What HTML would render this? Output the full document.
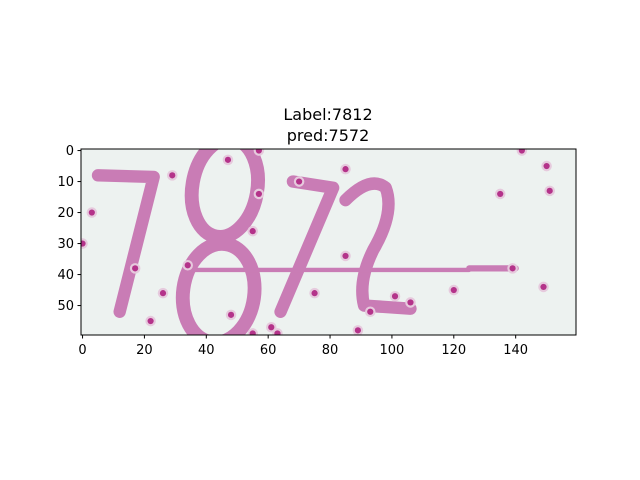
<!DOCTYPE html>
<html><head><meta charset="utf-8"><style>
body{margin:0;background:#fff;}
svg{display:block;font-family:"DejaVu Sans","Liberation Sans",sans-serif;}
</style></head><body>
<svg width="640" height="480">
<text x="328" y="120" font-size="16" text-anchor="middle">Label:7812</text>
<text x="328" y="141" font-size="16" text-anchor="middle">pred:7572</text>
<svg x="81" y="149" width="495" height="186" viewBox="-0.5 -0.5 160 60" preserveAspectRatio="none">
<rect x="-0.5" y="-0.5" width="160" height="60" fill="#edf2f0"/>
<g fill="none" stroke="#c97cb5" stroke-linecap="round" stroke-linejoin="round">
<path d="M5 8 L23 8.5 L12 52" stroke-width="4"/>
<ellipse cx="46" cy="12" rx="10.5" ry="16" stroke-width="4.5" transform="rotate(10 46 12)"/>
<ellipse cx="44" cy="46" rx="11.5" ry="16" stroke-width="4.5" transform="rotate(8 44 46)"/>
<path d="M68 10 L81 12 L64 52" stroke-width="4"/>
<path d="M85 16 Q93 8 98 12 Q101 20 94 32 Q89 42 91 50 L106 51" stroke-width="4"/>
<path d="M33 38.5 L125 38.5" stroke-width="1.4"/>
<path d="M125 38 L140 38" stroke-width="2"/>
</g>
<g id="dots"></g>
</svg>
<rect x="81" y="149" width="495" height="186" fill="none" stroke="#000" stroke-width="1"/>
<g id="ticks" font-size="13"></g>
</svg>
<script>
const dotsX=[47,57,29,57,3,0,17,34,26,22,48,55,61,63,55,70,85,85,75,89,93,101,106,120,139,135,142,150,151,149];
const dotsY=[3,0,8,14,20,30,38,37,46,55,53,26,57,59,59,10,6,34,46,58,52,47,49,45,38,14,0,5,13,44];
const xTicks=[0,20,40,60,80,100,120,140];
const yTicks=[0,10,20,30,40,50];
const NS="http://www.w3.org/2000/svg";
const sx=u=>81+(u+0.5)*495/160, sy=v=>149+(v+0.5)*186/60;
const dg=document.getElementById('dots');
dotsX.forEach((x,i)=>{
  const y=dotsY[i];
  const h=document.createElementNS(NS,'circle');
  h.setAttribute('cx',x);h.setAttribute('cy',y);h.setAttribute('r',1.7);h.setAttribute('fill','#e6cadd');
  
  
  dg.appendChild(h);
  const c=document.createElementNS(NS,'circle');
  c.setAttribute('cx',x);c.setAttribute('cy',y);c.setAttribute('r',1.0);c.setAttribute('fill','#b4338a');
  
  
  dg.appendChild(c);
});
const tg=document.getElementById('ticks');
xTicks.forEach(t=>{
  const l=document.createElementNS(NS,'line');
  l.setAttribute('x1',sx(t));l.setAttribute('x2',sx(t));l.setAttribute('y1',335);l.setAttribute('y2',338.5);l.setAttribute('stroke','#000');
  
  
  tg.appendChild(l);
  const s=document.createElementNS(NS,'text');
  s.setAttribute('x',sx(t));s.setAttribute('y',354);s.setAttribute('text-anchor','middle');s.textContent=t;
  
  
  tg.appendChild(s);
});
yTicks.forEach(t=>{
  const l=document.createElementNS(NS,'line');
  l.setAttribute('x1',77.5);l.setAttribute('x2',81);l.setAttribute('y1',sy(t));l.setAttribute('y2',sy(t));l.setAttribute('stroke','#000');
  
  
  tg.appendChild(l);
  const s=document.createElementNS(NS,'text');
  s.setAttribute('x',74);s.setAttribute('y',sy(t)+4.5);s.setAttribute('text-anchor','end');s.textContent=t;
  
  
  tg.appendChild(s);
});
</script>
</body></html>
